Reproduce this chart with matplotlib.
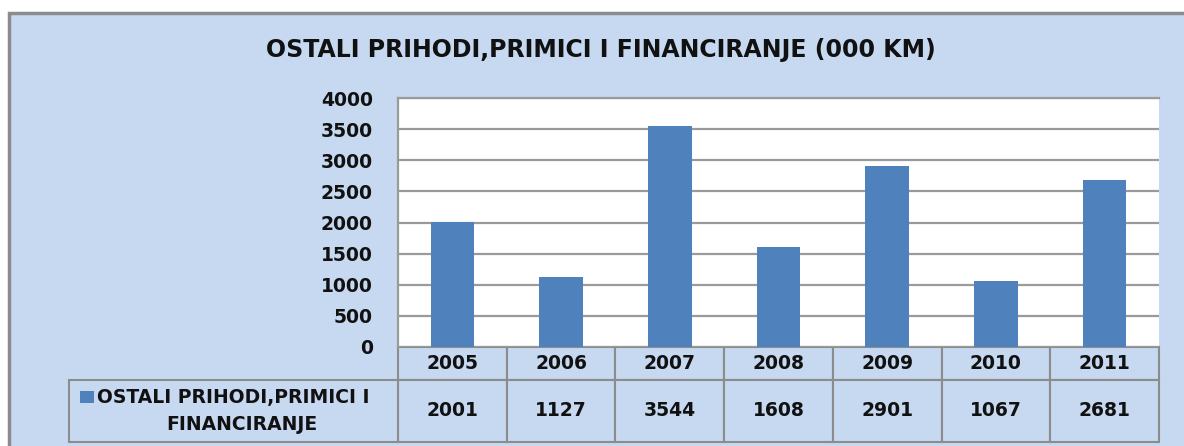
import numpy as np
import matplotlib.pyplot as plt
from matplotlib.patches import Rectangle

years = ['2005', '2006', '2007', '2008', '2009', '2010', '2011']
values = [2001, 1127, 3544, 1608, 2901, 1067, 2681]
series_name = 'OSTALI PRIHODI,PRIMICI I\nFINANCIRANJE'
title = 'OSTALI PRIHODI,PRIMICI I FINANCIRANJE (000 KM)'
yticks = [0, 500, 1000, 1500, 2000, 2500, 3000, 3500, 4000]

bg = '#C6D9F1'
bar_color = '#4F81BD'
edge = '#8C8C8C'
txt = '#111111'
W, H = 1184, 446

plt.rcParams['font.family'] = ['DejaVu Sans']
plt.rcParams['font.weight'] = 'bold'

fig = plt.figure(figsize=(W / 100, H / 100), dpi=100)
fig.patch.set_facecolor('white')

# chart frame (runs off the right and bottom edges)
fig.add_artist(Rectangle((9 / W, -0.1), 1.2, 1 - 13 / H + 0.1, transform=fig.transFigure,
                         facecolor=bg, edgecolor=edge, linewidth=2.5, zorder=-5))

fig.text(601 / W, 1 - 50 / H, title, ha='center', va='center', fontsize=17,
         fontweight='bold', color=txt)

# plot area in pixels
left, right, top, bottom = 398, 1159, 98, 347
ax = fig.add_axes([left / W, 1 - bottom / H, (right - left) / W, (bottom - top) / H])
ax.set_facecolor('white')

x = np.arange(len(years))
ax.bar(x, values, width=0.4, color=bar_color, zorder=3)
ax.set_xlim(-0.5, len(years) - 0.5)
ax.set_ylim(0, 4000)
ax.set_yticks(yticks)
ax.set_yticklabels([str(v) for v in yticks], fontsize=13.5, fontweight='bold', color=txt)
ax.tick_params(axis='y', length=0, pad=18)
ax.set_xticks([])
ax.yaxis.grid(True, color='#9A9A9A', linewidth=1.6, zorder=0)
for s in ['right', 'bottom']:
    ax.spines[s].set_visible(False)
for s in ['left', 'top']:
    ax.spines[s].set_color('#9A9A9A')
    ax.spines[s].set_linewidth(1.6)

# data table under the axis
ph = bottom - top
yr_top, yr_bot, val_bot = 0.0, -(380 - bottom) / ph, -(442 - bottom) / ph
trans = ax.get_xaxis_transform()
cell_kw = dict(facecolor=bg, edgecolor=edge, linewidth=1.5, clip_on=False)
for i, (yr, v) in enumerate(zip(years, values)):
    ax.add_patch(Rectangle((i - 0.5, yr_bot), 1, yr_top - yr_bot, transform=trans, **cell_kw))
    ax.add_patch(Rectangle((i - 0.5, val_bot), 1, yr_bot - val_bot, transform=trans, **cell_kw))
    ax.text(i, (yr_top + yr_bot) / 2, yr, transform=trans, ha='center', va='center',
            fontsize=13.5, fontweight='bold', color=txt)
    ax.text(i, (yr_bot + val_bot) / 2, str(v), transform=trans, ha='center', va='center',
            fontsize=13.5, fontweight='bold', color=txt)

# series label cell
pw = right - left
lx0 = (69 - left) / pw
ax.add_patch(Rectangle((lx0, val_bot), -lx0, yr_bot - val_bot, transform=ax.transAxes, **cell_kw))
ax.add_patch(Rectangle(((80 - left) / pw, -(403 - bottom) / ph), 14 / pw, 12 / ph,
                       transform=ax.transAxes, facecolor=bar_color, edgecolor='none',
                       clip_on=False))
lab1, lab2 = series_name.split('\n')
ax.text((97 - left) / pw, -(398 - bottom) / ph, lab1, transform=ax.transAxes,
        ha='left', va='center', fontsize=13.5, fontweight='bold', color=txt)
ax.text((242 - left) / pw, -(424 - bottom) / ph, lab2, transform=ax.transAxes,
        ha='center', va='center', fontsize=13.5, fontweight='bold', color=txt)

fig.savefig('out.png', dpi=100, facecolor=fig.get_facecolor())
